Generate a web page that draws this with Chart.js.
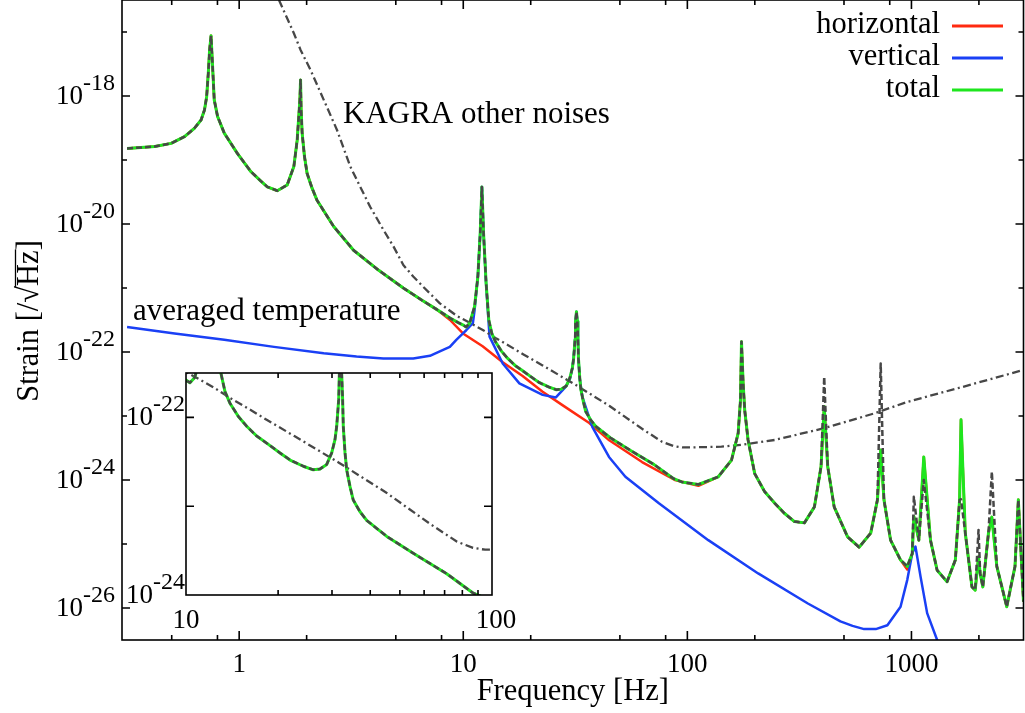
<!DOCTYPE html>
<html><head><meta charset="utf-8">
<script src="https://cdn.jsdelivr.net/npm/chart.js@4/dist/chart.umd.min.js"></script>
<style>
html,body{margin:0;padding:0;background:#fff;}
#wrap{position:relative;width:1025px;height:713px;}
canvas{position:absolute;left:0;top:0;}
</style></head><body>
<div id="wrap"><canvas id="main" width="1025" height="713"></canvas><canvas id="inset" width="1025" height="713"></canvas></div>
<script>
// ---------------- data (frequency in Hz, strain as log10 value) ----------------
const totalFreq = [0.316,0.42,0.497,0.570,0.631,0.676,0.700,0.716,0.728,0.738,0.749,0.761,0.774,0.801,0.858,0.983,1.127,1.25,1.335,1.479,1.638,1.754,1.815,1.866,1.879,1.890,1.910,1.957,2.010,2.115,2.226,2.641,3.239,4.18,5.4,6.6,7.57,8.73,9.5,10.0,10.3,10.68,11.23,11.62,11.90,12.11,12.32,12.65,13.0,13.41,13.92,14.83,15.79,17.02,18.35,20.29,21.88,24.17,26.06,27.42,28.83,29.93,30.68,31.08,31.55,31.7,32.0,32.28,32.5,32.66,33.09,33.5,34.36,35.2,37.0,38.96,42.0,45.3,55.3,71.1,86.9,94.4,112,137.4,157.4,168.5,172.6,174.4,177.4,180.3,186.6,199.8,221,245,271,300.6,333,369,395,408,423,452,519,584,658,705,729,754,807,894,958,1008,1025,1079,1135,1216,1302,1442,1570,1640,1664,1739,1862,1925,1992,2026,2082,2206,2284,2404,2662,2898,2999,3162];
const totalLog  = [-18.82,-18.79,-18.74,-18.636,-18.505,-18.375,-18.22,-18.01,-17.645,-17.28,-17.06,-17.54,-18.06,-18.32,-18.58,-18.90,-19.18,-19.33,-19.42,-19.48,-19.39,-19.10,-18.69,-18.06,-17.75,-18.22,-18.58,-18.95,-19.21,-19.44,-19.63,-20.04,-20.41,-20.72,-21.0,-21.2,-21.33,-21.47,-21.54,-21.58,-21.61,-21.55,-21.29,-20.82,-20.15,-19.42,-20.15,-20.93,-21.5,-21.71,-21.84,-21.99,-22.10,-22.21,-22.29,-22.40,-22.48,-22.55,-22.59,-22.58,-22.53,-22.40,-22.25,-22.10,-21.80,-21.52,-21.37,-21.52,-21.80,-22.10,-22.40,-22.59,-22.78,-22.93,-23.06,-23.16,-23.25,-23.34,-23.53,-23.76,-23.98,-24.03,-24.07,-23.95,-23.69,-23.27,-22.75,-21.84,-22.49,-22.91,-23.375,-23.90,-24.18,-24.36,-24.52,-24.65,-24.67,-24.42,-23.79,-22.85,-23.79,-24.42,-24.89,-25.05,-24.83,-24.31,-23.53,-24.31,-24.94,-25.25,-25.35,-25.15,-24.57,-24.94,-23.64,-24.94,-25.41,-25.59,-25.25,-24.31,-23.06,-24.83,-25.67,-25.72,-25.2,-25.46,-25.67,-24.83,-24.58,-25.35,-25.98,-25.35,-24.31,-25.9];
// dashed dark-grey curve: same as total except at these peaks
const grayPeakFreq = [408,729,1025,1135,1664,1992,2284];
const grayPeakLog  = [-22.39,-22.18,-24.26,-24.0,-24.3,-24.78,-23.87];

const vertFreq = [0.316,0.515,0.858,1.43,2.384,3.34,4.40,5.98,7.10,7.86,8.71,9.31,9.97,10.31,11.04,11.23,11.62,11.90,12.11,12.32,12.65,13.1,15.0,17.8,22.6,25.9,28.7,29.93,30.68,31.08,31.55,31.7,32.0,32.28,32.5,32.66,33.09,34.0,37.65,44.7,52.9,74.4,124,207,345,482,546,615,693,781,894,958,1008,1042,1098,1175,1302,1420];
const vertLog  = [-21.61,-21.71,-21.81,-21.92,-22.02,-22.07,-22.10,-22.10,-22.06,-21.99,-21.92,-21.81,-21.71,-21.66,-21.55,-21.35,-20.82,-20.15,-19.42,-20.15,-20.95,-21.76,-22.18,-22.49,-22.67,-22.71,-22.54,-22.42,-22.25,-22.10,-21.80,-21.52,-21.37,-21.52,-21.80,-22.10,-22.42,-22.70,-23.17,-23.64,-23.95,-24.36,-24.94,-25.46,-25.93,-26.21,-26.28,-26.33,-26.33,-26.27,-25.98,-25.56,-25.15,-25.04,-25.51,-26.08,-26.5,-27.0];

// horizontal: equals total below 7.6 Hz and above 130 Hz; own values in between
const horizMidFreq = [8.73,9.97,12.2,15.0,18.4,22.6,27.7,36.5,44.8,62.8,87.9,112];
const horizMidLog  = [-21.50,-21.71,-21.91,-22.16,-22.375,-22.62,-22.83,-23.11,-23.38,-23.72,-24.0,-24.09];
const horizDipFreq = [958];
const horizDipLog  = [-25.40];

const otherFreq = [1.505,1.754,1.879,2.08,2.384,2.732,3.13,3.47,3.84,4.40,4.88,5.40,5.98,6.62,7.86,9.31,10.0,11.04,12.28,13.92,15.79,18.4,22.6,31.6,44.8,62.8,76.9,86.7,95,104.6,142,174,245,408,681,958,1596,3162];
const otherLog  = [-16.5,-17.02,-17.28,-17.59,-18.06,-18.53,-19.10,-19.42,-19.73,-20.09,-20.35,-20.64,-20.82,-20.98,-21.24,-21.43,-21.49,-21.57,-21.66,-21.78,-21.89,-22.03,-22.21,-22.51,-22.84,-23.20,-23.40,-23.47,-23.49,-23.49,-23.48,-23.45,-23.375,-23.19,-22.96,-22.78,-22.57,-22.28];

const legendLabels = ['horizontal','vertical','total'];
const mainXTicks = [1,10,100,1000];
const mainXTickLabels = ['1','10','100','1000'];
const mainXMinor = [0.5,0.8,2,5,8,20,50,80,200,500,800,2000];
const mainYExps = [-26,-25,-24,-23,-22,-21,-20,-19,-18,-17];
const mainYLabelExps = [-26,-24,-22,-20,-18];
const insetXTicks = [20,30,40,50,60,70,80,90];
const insetXTickLabels = ['10','100'];
const insetYExps = [-23,-22];
const insetYLabelExps = [-24,-22];

// ---------------- build ----------------
const RED='#ff2a10', BLUE='#1a40f5', GREEN='#1ee61e', GRAY='#474747';
const SERIF='"Liberation Serif","Times New Roman",serif';
function pts(fs, ls){ return fs.map((f,i)=>({x:f, y:Math.pow(10, ls[i])})); }
const grayLog = totalLog.map((v,i)=>{ const k=grayPeakFreq.indexOf(totalFreq[i]); return k>=0?grayPeakLog[k]:v; });
const horizF=[], horizL=[];
totalFreq.forEach((f,i)=>{ if(f<=7.57){horizF.push(f);horizL.push(totalLog[i]);} });
horizMidFreq.forEach((f,i)=>{horizF.push(f);horizL.push(horizMidLog[i]);});
totalFreq.forEach((f,i)=>{ if(f>=137){ const k=horizDipFreq.indexOf(f); horizF.push(f); horizL.push(k>=0?horizDipLog[k]:totalLog[i]);} });

function line(ctx,x1,y1,x2,y2){ctx.moveTo(x1,y1);ctx.lineTo(x2,y2);}
function drawPow(ctx, xRight, yTick, exp){
  const e=String(exp);
  ctx.textAlign='right'; ctx.textBaseline='alphabetic';
  ctx.font='24px '+SERIF; const ew=ctx.measureText(e).width;
  ctx.fillText(e, xRight, yTick-6);
  ctx.font='27px '+SERIF; ctx.fillText('10', xRight-ew, yTick+8);
}
const common = {pointRadius:0, tension:0, fill:false, borderJoinStyle:'round'};
function ds(label, data, color, w, dash, order){ return Object.assign({label, data, borderColor:color, backgroundColor:color, borderWidth:w, borderDash:dash||[], order}, common); }

const mainDecor = {
  id:'mainDecor',
  afterDraw(chart){
    const ctx=chart.ctx, a=chart.chartArea, x=chart.scales.x, y=chart.scales.y;
    ctx.save();
    ctx.strokeStyle='#000'; ctx.lineWidth=1.6;
    ctx.strokeRect(a.left, a.top, a.right-a.left, a.bottom-a.top);
    ctx.beginPath();
    mainXTicks.forEach(v=>{const p=x.getPixelForValue(v); line(ctx,p,a.bottom,p,a.bottom-9); line(ctx,p,a.top,p,a.top+9);});
    mainXMinor.forEach(v=>{const p=x.getPixelForValue(v); line(ctx,p,a.bottom,p,a.bottom-5); line(ctx,p,a.top,p,a.top+5);});
    mainYExps.forEach(e=>{const p=y.getPixelForValue(Math.pow(10,e)); const L=mainYLabelExps.includes(e)?8:5; line(ctx,a.left,p,a.left+L,p); line(ctx,a.right,p,a.right-L,p);});
    ctx.stroke();
    ctx.fillStyle='#000';
    ctx.font='27px '+SERIF; ctx.textAlign='center'; ctx.textBaseline='alphabetic';
    mainXTicks.forEach((v,i)=>ctx.fillText(mainXTickLabels[i], x.getPixelForValue(v), 672));
    mainYLabelExps.forEach(e=>drawPow(ctx, 115, y.getPixelForValue(Math.pow(10,e)), e));
    ctx.font='30.5px '+SERIF; ctx.textAlign='center';
    ctx.fillText('Frequency [Hz]', (a.left+a.right)/2, 700);
    // y title with radical overline
    ctx.save(); ctx.translate(38, 321); ctx.rotate(-Math.PI/2);
    const yt='Strain [/√Hz]'; const W=ctx.measureText(yt).width;
    ctx.fillText(yt, 0, 0);
    const pre=ctx.measureText('Strain [/√').width, hz=ctx.measureText('Hz').width;
    ctx.beginPath(); ctx.lineWidth=1.3; ctx.strokeStyle='#000';
    line(ctx, -W/2+pre-1, -22.5, -W/2+pre+hz+1, -22.5); ctx.stroke();
    ctx.restore();
    ctx.font='31px '+SERIF; ctx.textAlign='left';
    ctx.fillText('KAGRA other noises', 343, 123);
    ctx.fillText('averaged temperature', 133, 320);
    // legend
    ctx.font='30.5px '+SERIF;
    const cols=[RED,BLUE,GREEN];
    legendLabels.forEach((t,i)=>{
      ctx.textAlign='right'; ctx.fillStyle='#000'; ctx.fillText(t, 940, 33+32*i);
      ctx.beginPath(); ctx.strokeStyle=cols[i]; ctx.lineWidth=3; line(ctx,952,26+32*i,1003,26+32*i); ctx.stroke();
    });
    ctx.restore();
  }
};

new Chart(document.getElementById('main'), {
  type:'line',
  data:{datasets:[
    ds('horizontal', pts(horizF,horizL), RED, 2.5, null, 5),
    ds('vertical', pts(vertFreq,vertLog), BLUE, 2.5, null, 4),
    ds('total', pts(totalFreq,totalLog), GREEN, 3, null, 2),
    ds('total (dashed)', pts(totalFreq,grayLog), GRAY, 2.5, [6,3], 1),
    ds('KAGRA other noises', pts(otherFreq,otherLog), GRAY, 2.3, [8,3.5,2,3.5], 3)
  ]},
  options:{
    responsive:false, animation:false, devicePixelRatio:1,
    layout:{padding:{left:122, right:1.5, top:0, bottom:73}},
    plugins:{legend:{display:false}, tooltip:{enabled:false}},
    scales:{
      x:{type:'logarithmic', min:Math.pow(10,-0.5), max:Math.pow(10,3.5), display:false},
      y:{type:'logarithmic', min:Math.pow(10,-26.5), max:Math.pow(10,-16.5), display:false}
    }
  },
  plugins:[mainDecor]
});

const insetDecor = {
  id:'insetDecor',
  beforeDraw(chart){
    const ctx=chart.ctx, a=chart.chartArea;
    ctx.save(); ctx.fillStyle='#fff'; ctx.fillRect(a.left, a.top, a.right-a.left, a.bottom-a.top); ctx.restore();
  },
  afterDraw(chart){
    const ctx=chart.ctx, a=chart.chartArea, x=chart.scales.x, y=chart.scales.y;
    ctx.save();
    ctx.strokeStyle='#000'; ctx.lineWidth=1.6;
    ctx.strokeRect(a.left, a.top, a.right-a.left, a.bottom-a.top);
    ctx.beginPath();
    insetXTicks.forEach(v=>{const p=x.getPixelForValue(v); line(ctx,p,a.bottom,p,a.bottom-5); line(ctx,p,a.top,p,a.top+5);});
    insetYExps.forEach(e=>{const p=y.getPixelForValue(Math.pow(10,e)); line(ctx,a.left,p,a.left+8,p); line(ctx,a.right,p,a.right-8,p);});
    ctx.stroke();
    ctx.fillStyle='#000';
    ctx.font='27px '+SERIF; ctx.textAlign='center'; ctx.textBaseline='alphabetic';
    ctx.fillText(insetXTickLabels[0], x.getPixelForValue(10), 628);
    ctx.fillText(insetXTickLabels[1], x.getPixelForValue(100)+4, 628);
    insetYLabelExps.forEach(e=>drawPow(ctx, 185, y.getPixelForValue(Math.pow(10,e)), e));
    ctx.restore();
  }
};

new Chart(document.getElementById('inset'), {
  type:'line',
  data:{datasets:[
    ds('total', pts(totalFreq,totalLog), GREEN, 3, null, 2),
    ds('total (dashed)', pts(totalFreq,grayLog), GRAY, 2.5, [6,3], 1),
    ds('KAGRA other noises', pts(otherFreq,otherLog), GRAY, 2.3, [8,3.5,2,3.5], 3)
  ]},
  options:{
    responsive:false, animation:false, devicePixelRatio:1,
    layout:{padding:{left:186, right:533, top:373, bottom:118}},
    plugins:{legend:{display:false}, tooltip:{enabled:false}},
    scales:{
      x:{type:'logarithmic', min:10, max:100, display:false},
      y:{type:'logarithmic', min:1e-24, max:Math.pow(10,-21.5), display:false}
    }
  },
  plugins:[insetDecor]
});
</script>
</body></html>
